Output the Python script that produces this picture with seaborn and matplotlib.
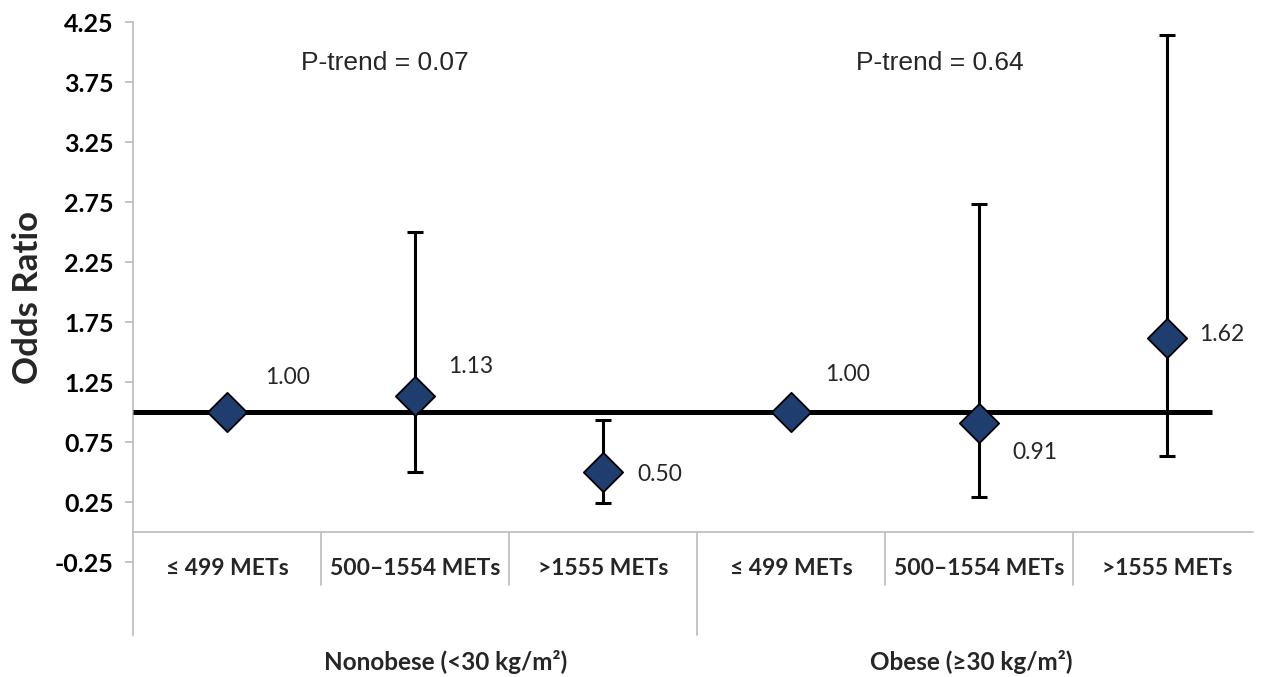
import matplotlib
matplotlib.use("Agg")
import matplotlib.pyplot as plt
import seaborn as sns
import pandas as pd
import numpy as np

# ---- data ----
categories = ["≤ 499 METs", "500–1554 METs", ">1555 METs",
              "≤ 499 METs", "500–1554 METs", ">1555 METs"]
groups = ["Nonobese (<30 kg/m²)", "Obese (≥30 kg/m²)"]
odds_ratio = [1.00, 1.13, 0.50, 1.00, 0.91, 1.62]
ci_lower = [np.nan, 0.50, 0.24, np.nan, 0.29, 0.63]
ci_upper = [np.nan, 2.50, 0.93, np.nan, 2.73, 4.14]
value_labels = ["1.00", "1.13", "0.50", "1.00", "0.91", "1.62"]
p_trend = ["P-trend = 0.07", "P-trend = 0.64"]
y_ticks = [-0.25, 0.25, 0.75, 1.25, 1.75, 2.25, 2.75, 3.25, 3.75, 4.25]

# layout helpers (positions of annotations)
label_dx = [61, 56, 57, 57, 56, 55]
label_dy = [35, 30, -2, 38, -30, 3]
group_label_x = [1.165, 3.96]
p_trend_x = [0.84, 3.79]

sns.set_theme(style="white")
plt.rcParams["font.family"] = ["Lato", "DejaVu Sans"]

df = pd.DataFrame({"pos": np.arange(len(categories)), "or": odds_ratio,
                   "lo": ci_lower, "hi": ci_upper})

fig = plt.figure(figsize=(12.64, 6.77), dpi=100)
ax = fig.add_axes([133 / 1264, 1 - 635 / 677, (1261 - 133) / 1264, (635 - 22) / 677])

navy = "#1F3D6E"
# error bars
m = df["lo"].notna()
ax.errorbar(df.loc[m, "pos"], df.loc[m, "or"],
            yerr=[df.loc[m, "or"] - df.loc[m, "lo"], df.loc[m, "hi"] - df.loc[m, "or"]],
            fmt="none", ecolor="black", elinewidth=2.2, capsize=6, capthick=2.2, zorder=2)
# reference line
ax.plot([-0.5, 5.24], [1, 1], color="black", lw=3.6, zorder=3, solid_capstyle="butt")
# diamonds
sns.scatterplot(data=df, x="pos", y="or", marker="D", s=400, color=navy,
                edgecolor="black", linewidth=1.3, zorder=4, ax=ax, legend=False)

ax.set_xlim(-0.5, 5.5)
ax.set_ylim(-0.858, 4.25)
ax.set_yticks(y_ticks)
ax.set_yticklabels([f"{t:.2f}" for t in y_ticks], fontsize=18, fontweight="bold")
ax.set_xticks([])
ax.set_xlabel("")
ax.set_ylabel("Odds Ratio", fontsize=25, fontweight="bold")
ax.yaxis.set_label_coords(-0.079, 0.551)
for s in ["top", "right", "bottom"]:
    ax.spines[s].set_visible(False)
ax.spines["left"].set_color("#BFBFBF")
ax.spines["left"].set_linewidth(1.3)
ax.tick_params(axis="y", which="both", left=True, length=6, width=1.3,
               color="#BFBFBF", pad=8, labelcolor="black")

# category baseline and dividers
gray = "#BFBFBF"
ax.plot([-0.5, 5.46], [0, 0], color=gray, lw=1.3, clip_on=False, zorder=1)
for i in [0.5, 1.5, 3.5, 4.5]:
    ax.plot([i, i], [0, -0.442], color=gray, lw=1.3, clip_on=False)
ax.plot([2.5, 2.5], [0, -0.858], color=gray, lw=1.3, clip_on=False)

for i, c in enumerate(categories):
    ax.text(i, -0.30, c, ha="center", va="center", fontsize=16.5,
            fontweight="bold", clip_on=False)
for g, gx in zip(groups, group_label_x):
    ax.text(gx, -1.08, g, ha="center", va="center", fontsize=17.5,
            fontweight="bold", clip_on=False)

for i, (v, lab) in enumerate(zip(odds_ratio, value_labels)):
    ax.annotate(lab, (i, v), xytext=(label_dx[i] * 0.72, label_dy[i] * 0.72),
                textcoords="offset points", ha="center", va="center", fontsize=16.5)

for t, px in zip(p_trend, p_trend_x):
    ax.text(px, 3.91, t, ha="center", va="center", fontsize=19,
            family=["Liberation Sans", "DejaVu Sans"])

fig.savefig("out.png", dpi=100)
